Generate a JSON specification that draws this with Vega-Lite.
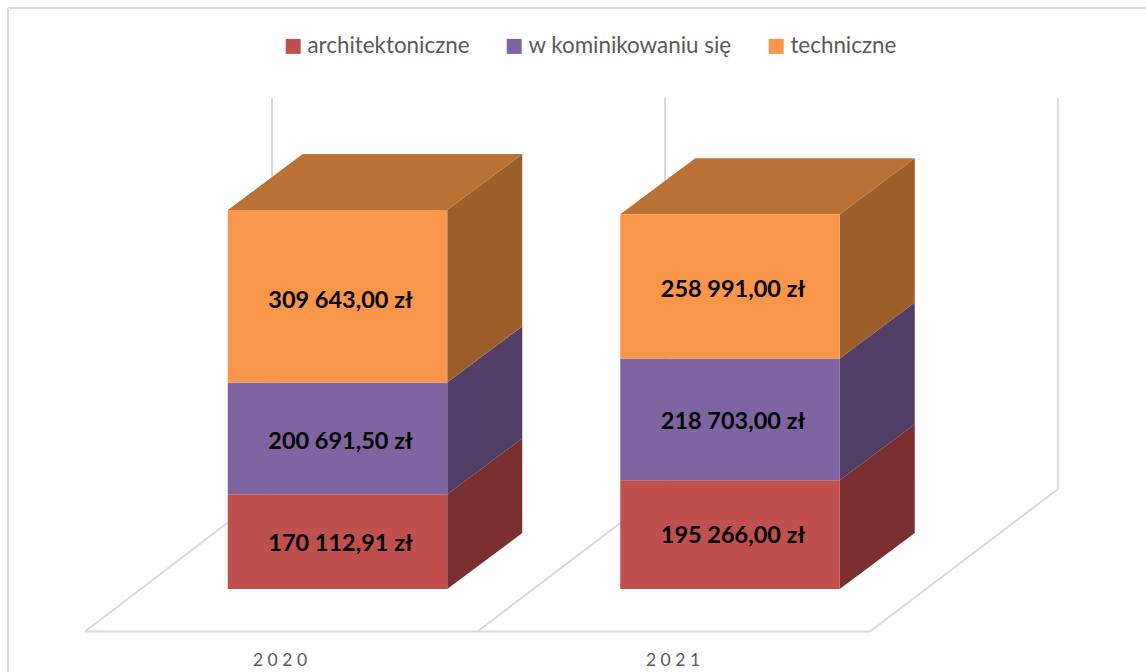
{
"$schema":"https://vega.github.io/schema/vega-lite/v6.json",
"width":1146,"height":672,"padding":0,"autosize":{"type":"none"},
"background":"white",
"view":{"stroke":null},
"config":{"font":"Lato"},
"datasets":{
"frame":[
{"part":"ramka","x":2019.1605,"x2":2019.1605,"y":-149018,"y2":1043127},
{"part":"ramka","x":2019.1605,"x2":2022.0599,"y":1043127,"y2":1043127}],
"grid":[
{"part":"podloga","x":2019.3567,"x2":2021.3567,"y":-76305,"y2":-76305},
{"part":"skos","x":2019.3567,"x2":2019.8331,"y":-76305,"y2":179540},
{"part":"skos","x":2020.3567,"x2":2020.8344,"y":-76305,"y2":179540},
{"part":"skos","x":2021.3567,"x2":2021.8357,"y":-76305,"y2":179540},
{"part":"sciana","x":2019.8331,"x2":2019.8331,"y":179540,"y2":881541},
{"part":"sciana","x":2020.8344,"x2":2020.8344,"y":179540,"y2":881541},
{"part":"sciana","x":2021.8357,"x2":2021.8357,"y":179540,"y2":881541}],
"faces":[
{"year":2020,"face":"architektoniczne bok","x":2020.2796,"low":0,"high":170112.91},
{"year":2020,"face":"architektoniczne bok","x":2020.4707,"low":100542,"high":270654.91},
{"year":2020,"face":"w kominikowaniu się bok","x":2020.2796,"low":170112.91,"high":370804.41},
{"year":2020,"face":"w kominikowaniu się bok","x":2020.4707,"low":270654.91,"high":471346.41},
{"year":2020,"face":"techniczne bok","x":2020.2796,"low":370804.41,"high":680447.41},
{"year":2020,"face":"techniczne bok","x":2020.4707,"low":471346.41,"high":780989.41},
{"year":2020,"face":"techniczne góra","x":2019.7204,"low":680447.41,"high":680447.41},
{"year":2020,"face":"techniczne góra","x":2019.9115,"low":680447.41,"high":780989.41},
{"year":2020,"face":"techniczne góra","x":2020.2796,"low":680447.41,"high":780989.41},
{"year":2020,"face":"techniczne góra","x":2020.4707,"low":780989.41,"high":780989.41},
{"year":2021,"face":"architektoniczne bok","x":2021.2796,"low":0,"high":195266},
{"year":2021,"face":"architektoniczne bok","x":2021.4707,"low":100542,"high":295808},
{"year":2021,"face":"w kominikowaniu się bok","x":2021.2796,"low":195266,"high":413969},
{"year":2021,"face":"w kominikowaniu się bok","x":2021.4707,"low":295808,"high":514511},
{"year":2021,"face":"techniczne bok","x":2021.2796,"low":413969,"high":672960},
{"year":2021,"face":"techniczne bok","x":2021.4707,"low":514511,"high":773502},
{"year":2021,"face":"techniczne góra","x":2020.7204,"low":672960,"high":672960},
{"year":2021,"face":"techniczne góra","x":2020.9115,"low":672960,"high":773502},
{"year":2021,"face":"techniczne góra","x":2021.2796,"low":672960,"high":773502},
{"year":2021,"face":"techniczne góra","x":2021.4707,"low":773502,"high":773502}],
"bars":[
{"year":2020,"series":"architektoniczne","value":170112.91,"label":"170 112,91 zł","left":2019.7204,"right":2020.2796,"center":2020,"low":0,"high":170112.91,"mid":85056},
{"year":2020,"series":"w kominikowaniu się","value":200691.5,"label":"200 691,50 zł","left":2019.7204,"right":2020.2796,"center":2020,"low":170112.91,"high":370804.41,"mid":266867},
{"year":2020,"series":"techniczne","value":309643,"label":"309 643,00 zł","left":2019.7204,"right":2020.2796,"center":2020,"low":370804.41,"high":680447.41,"mid":520226},
{"year":2021,"series":"architektoniczne","value":195266,"label":"195 266,00 zł","left":2020.7204,"right":2021.2796,"center":2021,"low":0,"high":195266,"mid":99428},
{"year":2021,"series":"w kominikowaniu się","value":218703,"label":"218 703,00 zł","left":2020.7204,"right":2021.2796,"center":2021,"low":195266,"high":413969,"mid":302822},
{"year":2021,"series":"techniczne","value":258991,"label":"258 991,00 zł","left":2020.7204,"right":2021.2796,"center":2021,"low":413969,"high":672960,"mid":539874}],
"cats":[
{"label":"2 0 2 0","x":2019.8535,"y":-128568},
{"label":"2 0 2 1","x":2020.8548,"y":-128568}]
},
"encoding":{},
"layer":[
{"data":{"name":"frame"},"mark":{"type":"rule","stroke":"#D9D9D9","strokeWidth":2},
 "encoding":{
 "x":{"field":"x","type":"quantitative","scale":{"domain":[2019.1401,2022.0599],"nice":false,"zero":false},"axis":null},
 "x2":{"field":"x2"},
 "y":{"field":"y","type":"quantitative","scale":{"domain":[-149018,1057491],"nice":false,"zero":false},"axis":null},
 "y2":{"field":"y2"}}},
{"data":{"name":"grid"},"mark":{"type":"rule","stroke":"#D9D9D9","strokeWidth":2},
 "encoding":{
 "x":{"field":"x","type":"quantitative"},"x2":{"field":"x2"},
 "y":{"field":"y","type":"quantitative"},"y2":{"field":"y2"}}},
{"data":{"name":"faces"},"mark":{"type":"area","interpolate":"linear"},
 "encoding":{
 "x":{"field":"x","type":"quantitative"},
 "y":{"field":"low","type":"quantitative","stack":null},
 "y2":{"field":"high"},
 "detail":{"field":"year"},
 "color":{"field":"face","type":"nominal","legend":null,
  "scale":{"domain":["architektoniczne bok","w kominikowaniu się bok","techniczne bok","techniczne góra"],"range":["#7B302F","#523F67","#9C5F2B","#BA7134"]}}}},
{"data":{"name":"bars"},"mark":{"type":"rect"},
 "encoding":{
 "x":{"field":"left","type":"quantitative"},"x2":{"field":"right"},
 "y":{"field":"low","type":"quantitative"},"y2":{"field":"high"},
 "color":{"field":"series","type":"nominal",
  "scale":{"domain":["architektoniczne","w kominikowaniu się","techniczne"],"range":["#C0504D","#8064A2","#F9964A"]},
  "legend":{"title":null,"orient":"none","legendX":282,"legendY":35,"direction":"horizontal","symbolType":"square","symbolSize":225,"symbolStrokeWidth":0,"labelFontSize":22.4,"labelColor":"#595959","labelFont":"Lato","labelOffset":3,"columnPadding":33,"labelLimit":300}}}},
{"data":{"name":"bars"},"mark":{"type":"text","font":"Lato","fontWeight":"bold","fontSize":23.5,"color":"#000000","dx":3,"dy":2},
 "encoding":{
 "x":{"field":"center","type":"quantitative"},
 "y":{"field":"mid","type":"quantitative"},
 "text":{"field":"label"}}},
{"data":{"name":"cats"},"mark":{"type":"text","font":"Lato","fontSize":17.5,"color":"#595959"},
 "encoding":{
 "x":{"field":"x","type":"quantitative"},
 "y":{"field":"y","type":"quantitative"},
 "text":{"field":"label"}}}
],
"resolve":{"scale":{"color":"independent"}}
}
